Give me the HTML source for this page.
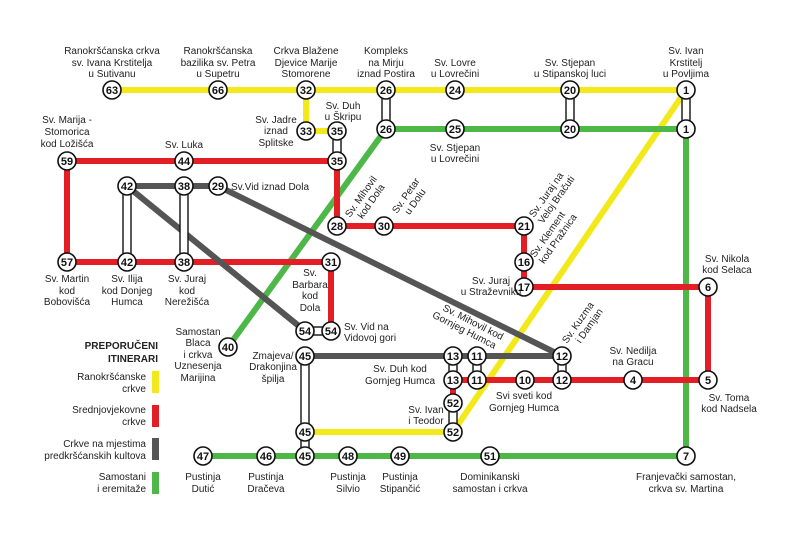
<!DOCTYPE html>
<html><head><meta charset="utf-8"><style>
html,body{margin:0;padding:0;background:#fff}
svg{display:block}
text{font-family:"Liberation Sans",sans-serif;font-size:10px;fill:#222}
.n{font-weight:bold;font-size:11px;text-anchor:middle;fill:#111}
.c{text-anchor:middle}
.r{text-anchor:end}
</style></head><body>
<svg width="800" height="553" viewBox="0 0 800 553" xmlns="http://www.w3.org/2000/svg">
<g fill="none" stroke-linecap="butt" stroke-width="6">
<g stroke="#f2e81a">
<polyline points="112,90 686,90"/>
<polyline points="306,90 306,131 337,131"/>
<polyline points="305,432 453,432 686,90"/>
</g>
<g stroke="#4db848">
<polyline points="386,129 686,129 686,456 203,456"/>
<line x1="386" y1="129" x2="228" y2="347"/>
</g>
<g stroke="#e31e24">
<polyline points="67,161 337,161 337,226 524,226 524,287 708,287 708,380 453,380 453,403"/>
<polyline points="67,161 67,262 331,262 331,331"/>
</g>
<g stroke="#555555">
<polyline points="127,186 218,186 562,356"/>
<line x1="127" y1="186" x2="305" y2="331"/>
<polyline points="305,356 562,356"/>
</g>
</g>
<g fill="#fff" stroke="#111" stroke-width="1.4">
<rect x="123" y="186" width="8" height="76"/>
<rect x="180" y="186" width="8" height="76"/>
<rect x="382" y="90" width="8" height="39"/>
<rect x="566" y="90" width="8" height="39"/>
<rect x="682" y="90" width="8" height="39"/>
<rect x="333" y="131" width="8" height="30"/>
<rect x="305" y="327" width="26" height="8"/>
<rect x="301" y="356" width="8" height="100"/>
<rect x="449" y="356" width="8" height="24"/>
<rect x="473" y="356" width="8" height="24"/>
<rect x="558" y="356" width="8" height="24"/>
<rect x="449" y="403" width="8" height="29"/>
</g>
<g fill="#fff" stroke="#111" stroke-width="1.6">
<circle cx="112" cy="90" r="9"/><circle cx="218" cy="90" r="9"/><circle cx="306" cy="90" r="9"/><circle cx="386" cy="90" r="9"/><circle cx="455" cy="90" r="9"/><circle cx="570" cy="90" r="9"/><circle cx="686" cy="90" r="9"/>
<circle cx="386" cy="129" r="9"/><circle cx="455" cy="129" r="9"/><circle cx="570" cy="129" r="9"/><circle cx="686" cy="129" r="9"/>
<circle cx="306" cy="131" r="9"/><circle cx="337" cy="131" r="9"/><circle cx="337" cy="161" r="9"/>
<circle cx="67" cy="161" r="9"/><circle cx="184" cy="161" r="9"/>
<circle cx="127" cy="186" r="9"/><circle cx="184" cy="186" r="9"/><circle cx="218" cy="186" r="9"/>
<circle cx="337" cy="226" r="9"/><circle cx="384" cy="226" r="9"/><circle cx="524" cy="226" r="9"/>
<circle cx="524" cy="262" r="9"/><circle cx="524" cy="287" r="9"/><circle cx="708" cy="287" r="9"/>
<circle cx="67" cy="262" r="9"/><circle cx="127" cy="262" r="9"/><circle cx="184" cy="262" r="9"/><circle cx="331" cy="262" r="9"/>
<circle cx="305" cy="331" r="9"/><circle cx="331" cy="331" r="9"/><circle cx="228" cy="347" r="9"/>
<circle cx="305" cy="356" r="9"/><circle cx="453" cy="356" r="9"/><circle cx="477" cy="356" r="9"/><circle cx="562" cy="356" r="9"/>
<circle cx="453" cy="380" r="9"/><circle cx="477" cy="380" r="9"/><circle cx="525" cy="380" r="9"/><circle cx="562" cy="380" r="9"/><circle cx="633" cy="380" r="9"/><circle cx="708" cy="380" r="9"/>
<circle cx="453" cy="403" r="9"/><circle cx="453" cy="432" r="9"/><circle cx="305" cy="432" r="9"/>
<circle cx="203" cy="456" r="9"/><circle cx="266" cy="456" r="9"/><circle cx="305" cy="456" r="9"/><circle cx="348" cy="456" r="9"/><circle cx="400" cy="456" r="9"/><circle cx="490" cy="456" r="9"/><circle cx="686" cy="456" r="9"/>
</g>
<g>
<text x="112" y="94" class="n">63</text><text x="218" y="94" class="n">66</text><text x="306" y="94" class="n">32</text><text x="386" y="94" class="n">26</text><text x="455" y="94" class="n">24</text><text x="570" y="94" class="n">20</text><text x="686" y="94" class="n">1</text>
<text x="386" y="133" class="n">26</text><text x="455" y="133" class="n">25</text><text x="570" y="133" class="n">20</text><text x="686" y="133" class="n">1</text>
<text x="306" y="135" class="n">33</text><text x="337" y="135" class="n">35</text><text x="337" y="165" class="n">35</text>
<text x="67" y="165" class="n">59</text><text x="184" y="165" class="n">44</text>
<text x="127" y="190" class="n">42</text><text x="184" y="190" class="n">38</text><text x="218" y="190" class="n">29</text>
<text x="337" y="230" class="n">28</text><text x="384" y="230" class="n">30</text><text x="524" y="230" class="n">21</text>
<text x="524" y="266" class="n">16</text><text x="524" y="291" class="n">17</text><text x="708" y="291" class="n">6</text>
<text x="67" y="266" class="n">57</text><text x="127" y="266" class="n">42</text><text x="184" y="266" class="n">38</text><text x="331" y="266" class="n">31</text>
<text x="305" y="335" class="n">54</text><text x="331" y="335" class="n">54</text><text x="228" y="351" class="n">40</text>
<text x="305" y="360" class="n">45</text><text x="453" y="360" class="n">13</text><text x="477" y="360" class="n">11</text><text x="562" y="360" class="n">12</text>
<text x="453" y="384" class="n">13</text><text x="477" y="384" class="n">11</text><text x="525" y="384" class="n">10</text><text x="562" y="384" class="n">12</text><text x="633" y="384" class="n">4</text><text x="708" y="384" class="n">5</text>
<text x="453" y="407" class="n">52</text><text x="453" y="436" class="n">52</text><text x="305" y="436" class="n">45</text>
<text x="203" y="460" class="n">47</text><text x="266" y="460" class="n">46</text><text x="305" y="460" class="n">45</text><text x="348" y="460" class="n">48</text><text x="400" y="460" class="n">49</text><text x="490" y="460" class="n">51</text><text x="686" y="460" class="n">7</text>
</g>
<g>
<text x="112" y="54" class="c">Ranokršćanska crkva</text><text x="112" y="66" class="c">sv. Ivana Krstitelja</text><text x="112" y="77" class="c">u Sutivanu</text>
<text x="218" y="54" class="c">Ranokršćanska</text><text x="218" y="66" class="c">bazilika sv. Petra</text><text x="218" y="77" class="c">u Supetru</text>
<text x="306" y="54" class="c">Crkva Blažene</text><text x="306" y="66" class="c">Djevice Marije</text><text x="306" y="77" class="c">Stomorene</text>
<text x="386" y="54" class="c">Kompleks</text><text x="386" y="66" class="c">na Mirju</text><text x="386" y="77" class="c">iznad Postira</text>
<text x="455" y="66" class="c">Sv. Lovre</text><text x="455" y="77" class="c">u Lovrečini</text>
<text x="570" y="66" class="c">Sv. Stjepan</text><text x="570" y="77" class="c">u Stipanskoj luci</text>
<text x="686" y="54" class="c">Sv. Ivan</text><text x="686" y="66" class="c">Krstitelj</text><text x="686" y="77" class="c">u Povljima</text>
<text x="455" y="151" class="c">Sv. Stjepan</text><text x="455" y="162" class="c">u Lovrečini</text>
<text x="343" y="109" class="c">Sv. Duh</text><text x="343" y="120" class="c">u Škripu</text>
<text x="276" y="123" class="c">Sv. Jadre</text><text x="276" y="134" class="c">iznad</text><text x="276" y="146" class="c">Splitske</text>
<text x="67" y="123" class="c">Sv. Marija -</text><text x="67" y="135" class="c">Stomorica</text><text x="67" y="147" class="c">kod Ložišća</text>
<text x="184" y="148" class="c">Sv. Luka</text>
<text x="231" y="190">Sv.Vid iznad Dola</text>
<text x="67" y="282" class="c">Sv. Martin</text><text x="67" y="294" class="c">kod</text><text x="67" y="305" class="c">Bobovišća</text>
<text x="127" y="282" class="c">Sv. Ilija</text><text x="127" y="294" class="c">kod Donjeg</text><text x="127" y="305" class="c">Humca</text>
<text x="187" y="282" class="c">Sv. Juraj</text><text x="187" y="294" class="c">kod</text><text x="187" y="305" class="c">Nerežišća</text>
<text x="310" y="276" class="c">Sv.</text><text x="310" y="288" class="c">Barbara</text><text x="310" y="299" class="c">kod</text><text x="310" y="311" class="c">Dola</text>
<text x="344" y="330">Sv. Vid na</text><text x="344" y="341">Vidovoj gori</text>
<text x="198" y="335" class="c">Samostan</text><text x="198" y="346" class="c">Blaca</text><text x="198" y="358" class="c">i crkva</text><text x="198" y="369" class="c">Uznesenja</text><text x="198" y="381" class="c">Marijina</text>
<text x="273" y="359" class="c">Zmajeva/</text><text x="273" y="370" class="c">Drakonjina</text><text x="273" y="382" class="c">špilja</text>
<text x="400" y="372" class="c">Sv. Duh kod</text><text x="400" y="384" class="c">Gornjeg Humca</text>
<text x="524" y="399" class="c">Svi sveti kod</text><text x="524" y="411" class="c">Gornjeg Humca</text>
<text x="633" y="354" class="c">Sv. Nedilja</text><text x="633" y="365" class="c">na Gracu</text>
<text x="729" y="401" class="c">Sv. Toma</text><text x="729" y="412" class="c">kod Nadsela</text>
<text x="727" y="262" class="c">Sv. Nikola</text><text x="727" y="273" class="c">kod Selaca</text>
<text x="491" y="284" class="c">Sv. Juraj</text><text x="491" y="295" class="c">u Straževniku</text>
<text x="426" y="413" class="c">Sv. Ivan</text><text x="426" y="424" class="c">i Teodor</text>
<text x="203" y="480" class="c">Pustinja</text><text x="203" y="492" class="c">Dutić</text>
<text x="266" y="480" class="c">Pustinja</text><text x="266" y="492" class="c">Dračeva</text>
<text x="348" y="480" class="c">Pustinja</text><text x="348" y="492" class="c">Silvio</text>
<text x="400" y="480" class="c">Pustinja</text><text x="400" y="492" class="c">Stipančić</text>
<text x="490" y="480" class="c">Dominikanski</text><text x="490" y="492" class="c">samostan i crkva</text>
<text x="686" y="480" class="c">Franjevački samostan,</text><text x="686" y="492" class="c">crkva sv. Martina</text>
</g>
<g transform="translate(350,218) rotate(-55)"><text x="0" y="0">Sv. Mihovil</text><text x="6" y="11">kod Dola</text></g>
<g transform="translate(397,214) rotate(-55)"><text x="0" y="0">Sv. Petar</text><text x="6" y="11">u Dolu</text></g>
<g transform="translate(534,218) rotate(-55)"><text x="0" y="0">Sv. Juraj na</text><text x="0" y="11">Veloj Bračuti</text></g>
<g transform="translate(535,258) rotate(-55)"><text x="0" y="0">Sv. Klement</text><text x="0" y="11">kod Pražnica</text></g>
<g transform="translate(567,344) rotate(-55)"><text x="0" y="0">Sv. Kuzma</text><text x="8" y="11">i Damjan</text></g>
<g transform="translate(442,310) rotate(27)"><text x="0" y="0">Sv. Mihovil kod</text><text x="-6" y="11">Gornjeg Humca</text></g>
<g>
<text x="158" y="349" class="r" style="font-weight:bold;font-size:10px">PREPORUČENI</text>
<text x="158" y="362" class="r" style="font-weight:bold;font-size:10px">ITINERARI</text>
<text x="146" y="380" class="r">Ranokršćanske</text><text x="146" y="392" class="r">crkve</text>
<text x="146" y="413" class="r">Srednjovjekovne</text><text x="146" y="425" class="r">crkve</text>
<text x="146" y="447" class="r">Crkve na mjestima</text><text x="146" y="459" class="r">predkršćanskih kultova</text>
<text x="146" y="480" class="r">Samostani</text><text x="146" y="492" class="r">i eremitaže</text>
<rect x="152" y="371" width="7" height="22" fill="#f2e81a"/>
<rect x="152" y="405" width="7" height="22" fill="#e31e24"/>
<rect x="152" y="438" width="7" height="22" fill="#555555"/>
<rect x="152" y="472" width="7" height="22" fill="#4db848"/>
</g>
</svg>
</body></html>
